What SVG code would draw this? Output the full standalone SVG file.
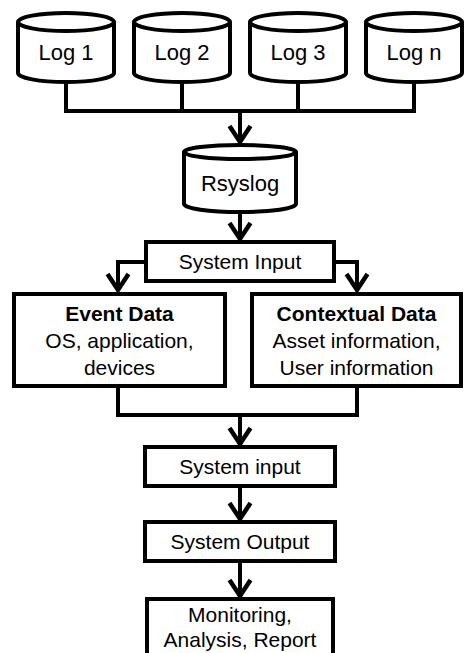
<svg xmlns="http://www.w3.org/2000/svg" width="464" height="653" viewBox="0 0 464 653">
<style>
.s{fill:#fff;stroke:#000;stroke-width:4}
.c{fill:none;stroke:#000;stroke-width:4}
.t{font-family:"Liberation Sans",Arial,sans-serif;font-size:21px;fill:#000;text-anchor:middle}
.b{font-weight:bold}
.l{font-size:22px}
</style>
<defs>
<marker id="ah" markerUnits="userSpaceOnUse" markerWidth="30" markerHeight="30" refX="0" refY="0" orient="auto" overflow="visible">
<path d="M-17,-10.5 L-1,0 L-17,10.5" fill="none" stroke="#000" stroke-width="4.5" stroke-linejoin="miter"/>
</marker>
</defs>
<rect width="464" height="653" fill="#fff"/>
<g id="connectors">
<path class="c" d="M66,82 V111 M182,82 V111 M298,82 V111 M414,82 V111 M64,111 H416"/>
<path class="c" d="M240,111 V143" marker-end="url(#ah)"/>
<path class="c" d="M240,212 V240" marker-end="url(#ah)"/>
<path class="c" d="M146,262 H118 V291" marker-end="url(#ah)"/>
<path class="c" d="M334,262 H357 V291" marker-end="url(#ah)"/>
<path class="c" d="M118,388 V415 H357 V388"/>
<path class="c" d="M240,415 V445" marker-end="url(#ah)"/>
<path class="c" d="M240,488 V520" marker-end="url(#ah)"/>
<path class="c" d="M240,563 V597" marker-end="url(#ah)"/>
</g>
<g id="log1">
<path class="s" d="M18,22 V73 A48,9 0 0 0 114,73 V22"/>
<ellipse class="s" cx="66" cy="22" rx="48" ry="9"/>
<text class="t l" x="66" y="60">Log 1</text>
</g>
<g id="log2">
<path class="s" d="M134,22 V73 A48,9 0 0 0 230,73 V22"/>
<ellipse class="s" cx="182" cy="22" rx="48" ry="9"/>
<text class="t l" x="182" y="60">Log 2</text>
</g>
<g id="log3">
<path class="s" d="M250,22 V73 A48,9 0 0 0 346,73 V22"/>
<ellipse class="s" cx="298" cy="22" rx="48" ry="9"/>
<text class="t l" x="298" y="60">Log 3</text>
</g>
<g id="logn">
<path class="s" d="M366,22 V73 A48,9 0 0 0 462,73 V22"/>
<ellipse class="s" cx="414" cy="22" rx="48" ry="9"/>
<text class="t l" x="414" y="60">Log n</text>
</g>
<g id="rsyslog">
<path class="s" d="M184,152 V204 A56,8 0 0 0 296,204 V152"/>
<ellipse class="s" cx="240" cy="152" rx="56" ry="7"/>
<text class="t l" x="240" y="191">Rsyslog</text>
</g>
<g id="system-input-1">
<rect class="s" x="146" y="242" width="188" height="39"/>
<text class="t" x="240" y="269">System Input</text>
</g>
<g id="event-data">
<rect class="s" x="14" y="294" width="211" height="92"/>
<text class="t b" x="119.5" y="321">Event Data</text>
<text class="t" x="119.5" y="348">OS, application,</text>
<text class="t" x="119.5" y="375">devices</text>
</g>
<g id="contextual-data">
<rect class="s" x="252" y="294" width="209" height="92"/>
<text class="t b" x="356.5" y="321">Contextual Data</text>
<text class="t" x="356.5" y="348">Asset information,</text>
<text class="t" x="356.5" y="375">User information</text>
</g>
<g id="system-input-2">
<rect class="s" x="145" y="447" width="190" height="39"/>
<text class="t" x="240" y="474">System input</text>
</g>
<g id="system-output">
<rect class="s" x="145" y="522" width="190" height="39"/>
<text class="t" x="240" y="549">System Output</text>
</g>
<g id="monitoring">
<rect class="s" x="147" y="599" width="186" height="80"/>
<text class="t" x="240" y="622">Monitoring,</text>
<text class="t" x="240" y="647">Analysis, Report</text>
</g>
</svg>
